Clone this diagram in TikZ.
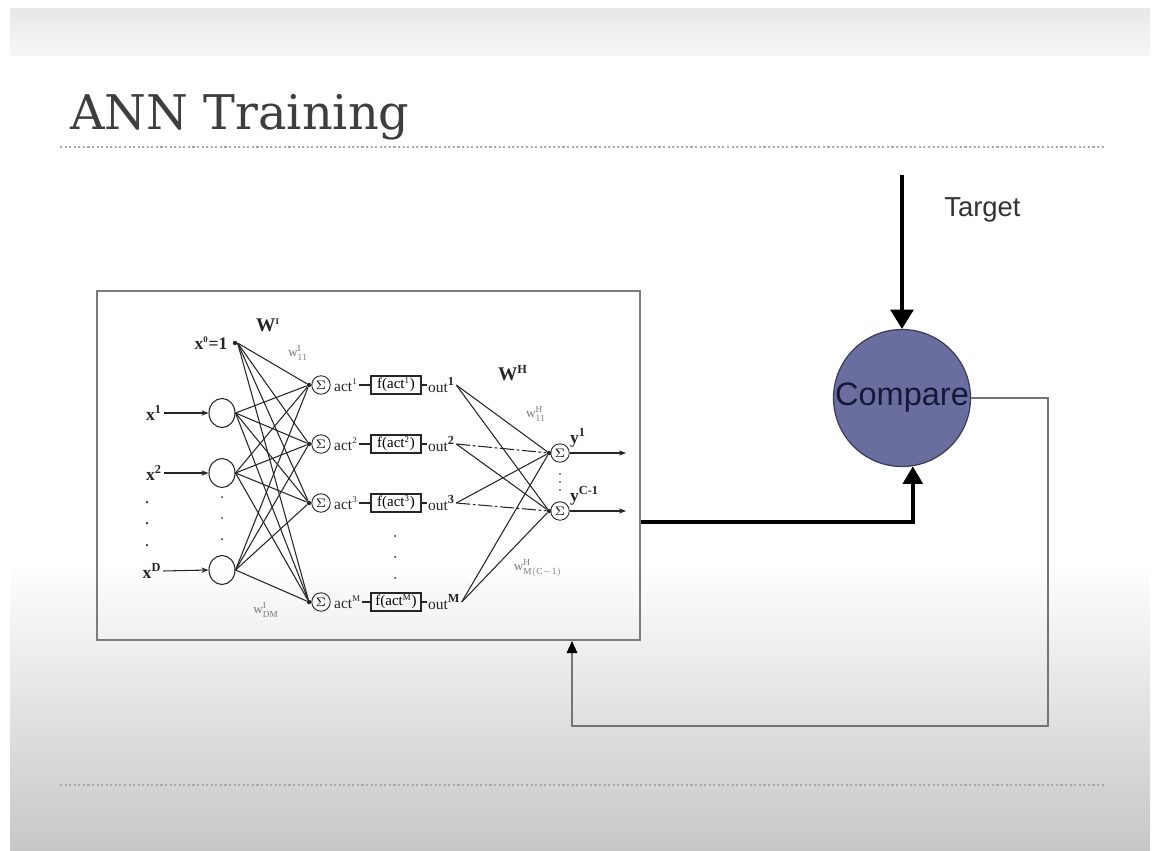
\documentclass[tikz,border=0pt]{standalone}
\usepackage{fontspec}
\setmainfont{Liberation Serif}
\newfontfamily\titlefont{DejaVu Serif}
\newfontfamily\labelfont{Liberation Sans}
\usetikzlibrary{arrows.meta,shapes.geometric,calc}

\definecolor{titlegray}{HTML}{3E3E3E}
\definecolor{rulegray}{HTML}{A8A8A8}
\definecolor{boxgray}{HTML}{7C7C7C}
\definecolor{netline}{HTML}{262626}
\definecolor{wgray}{HTML}{7A7A7A}
\definecolor{cmpfill}{HTML}{6A6E9E}
\definecolor{cmpdraw}{HTML}{3A3C58}
\definecolor{cmptext}{HTML}{16183A}
\definecolor{fbgray}{HTML}{747474}

\tikzset{
  net/.style={draw=netline, line width=0.6pt},
  inarrow/.style={net, -{Stealth[length=4pt,width=3pt]}},
  innode/.style={draw=netline, line width=0.6pt, ellipse, minimum width=0.52cm, minimum height=0.58cm, inner sep=0pt},
  sumnode/.style={draw=netline, line width=0.5pt, circle, minimum size=0.37cm, inner sep=0pt, font=\fontsize{7}{7}\selectfont},
  joint/.style={circle, fill=netline, minimum size=0.09cm, inner sep=0pt},
  fbox/.style={draw=netline, line width=0.6pt, minimum width=1.0cm, minimum height=0.36cm, inner sep=1pt, font=\fontsize{8.5}{9}\selectfont},
  rowtxt/.style={inner sep=0.5pt, font=\fontsize{8.8}{9}\selectfont, text=netline},
  xlab/.style={inner sep=1pt, font=\bfseries\fontsize{10}{10}\selectfont, text=netline},
  wlab/.style={inner sep=0pt, font=\fontsize{7.5}{8}\selectfont, text=wgray},
  ddot/.style={circle, fill=netline, minimum size=0.05cm, inner sep=0pt},
  thickarrow/.style={line width=2.2pt, -{Triangle[length=11pt,width=13pt]}},
}

\begin{document}
\begin{tikzpicture}[x=0.02cm, y=-0.02cm]
\useasboundingbox (0,0) rectangle (1156,851);
\fill[white] (0,0) rectangle (1156,851);

% slide background bands
\shade[top color=black!9, bottom color=black!3] (10,9) rectangle (1150,56);
\shade[top color=white, bottom color=black!22] (10,560) rectangle (1150,851);

% title and rules
\node[anchor=base west, inner sep=0pt, text=titlegray, font=\titlefont\fontsize{27.2}{30}\selectfont] (title) at (70,130) {ANN Training};
\coordinate (r1a) at (60,147); \coordinate (r1b) at (1106,147);
\coordinate (r2a) at (60,785); \coordinate (r2b) at (1106,785);
\draw[rulegray, line width=0.9pt, dash pattern=on 1.2pt off 1.4pt] (r1a) -- (r1b);
\draw[rulegray, line width=0.9pt, dash pattern=on 1.2pt off 1.4pt] (r2a) -- (r2b);

% network frame
\node[draw=boxgray, line width=1.1pt, minimum width=10.86cm, minimum height=6.98cm, inner sep=0pt] (box) at (368.5,465.5) {};

% ---- input layer ----
\node[xlab] (x0) at (211,343) {x\textsuperscript{\fontsize{5}{5}\selectfont 0}=1};
\node[joint] (b0) at (235,343) {};
\node[innode] (i1) at (222,413) {};
\node[innode] (i2) at (222,473) {};
\node[innode] (iD) at (222,570) {};
\node[xlab] (l1) at (154,413) {x\textsuperscript{1}};
\node[xlab] (l2) at (154,473) {x\textsuperscript{2}};
\node[xlab] (lD) at (152,571) {x\textsuperscript{D}};
\draw[inarrow] (l1.east) -- (i1.west);
\draw[inarrow] (l2.east) -- (i2.west);
\draw[inarrow] (lD.east) -- (iD.west);
\foreach \yy in {502,523,545} \node[ddot] at (147,\yy) {};
\foreach \yy in {497,518,539} \node[ddot, minimum size=0.04cm] at (222,\yy) {};

\node[inner sep=0pt, font=\bfseries\fontsize{11}{11}\selectfont, text=netline] (WI) at (268,325) {W\textsuperscript{\fontsize{5}{5}\selectfont I}};

% ---- hidden layer ----
\foreach \k/\yy/\s in {1/385/1, 2/444/2, 3/503/3, 4/602/M}{
  \node[joint] (hd\k) at (309,\yy) {};
  \node[sumnode] (s\k) at (321,\yy) {$\Sigma$};
  \node[rowtxt, anchor=west] (a\k) at (333,\yy) {act\textsuperscript{\fontsize{5}{5}\selectfont\s}};
  \node[fbox] (f\k) at (396,\yy) {f(act\textsuperscript{\fontsize{5}{5}\selectfont\s})};
  \node[rowtxt, anchor=west] (o\k) at (427,\yy) {out\textsuperscript{\bfseries\fontsize{7}{7}\selectfont\s}};
  \draw[net] (a\k.east) -- (f\k.west);
  \draw[net] (f\k.east) -- (o\k.west);
}
\foreach \yy in {536,557,578} \node[ddot, minimum size=0.04cm] at (395,\yy) {};

% input-to-hidden weights
\foreach \src in {b0,i1,i2,iD}{
  \foreach \k in {1,2,3,4}{
    \draw[net] (\src.east) -- (hd\k);
  }
}
\node[wlab] (w11) at (298,353) {$\mathrm{w}^{\mathrm{I}}_{\mathrm{11}}$};
\node[wlab] (wDM) at (266,610) {$\mathrm{w}^{\mathrm{I}}_{\mathrm{DM}}$};

% ---- output layer ----
\node[inner sep=0pt, font=\bfseries\fontsize{11}{11}\selectfont, text=netline] (WH) at (513,373) {W\textsuperscript{\fontsize{7}{7}\selectfont H}};
\node[joint] (yd1) at (549,453) {};
\node[joint] (yd2) at (549,511) {};
\node[sumnode] (y1) at (560,453) {$\Sigma$};
\node[sumnode] (y2) at (560,511) {$\Sigma$};
\node[xlab, anchor=west] (ly1) at (568,438) {y\textsuperscript{1}};
\node[xlab, anchor=west] (ly2) at (568,496) {y\textsuperscript{C-1}};
\foreach \yy in {474,482,490} \node[ddot, minimum size=0.035cm] at (560,\yy) {};
\coordinate (e1) at (626,453);
\coordinate (e2) at (626,511);
\draw[inarrow] (y1.east) -- (e1);
\draw[inarrow] (y2.east) -- (e2);

% hidden-to-output weights
\draw[net] (o1.east) -- (yd1);
\draw[net] (o1.east) -- (yd2);
\draw[net, dash pattern=on 8pt off 1.5pt on 1.5pt off 1.5pt] (o2.east) -- (yd1);
\draw[net] (o2.east) -- (yd2);
\draw[net] (o3.east) -- (yd1);
\draw[net, dash pattern=on 8pt off 1.5pt on 1.5pt off 1.5pt] (o3.east) -- (yd2);
\draw[net] (o4.east) -- (yd1);
\draw[net] (o4.east) -- (yd2);
\node[wlab] (wH11) at (536,414) {$\mathrm{w}^{\mathrm{H}}_{\mathrm{11}}$};
\node[wlab] (wHM) at (538,568) {$\mathrm{w}^{\mathrm{H}}_{\mathrm{M(C-1)}}$};

% ---- comparison stage ----
\node[circle, fill=cmpfill, draw=cmpdraw, line width=0.7pt, minimum size=2.74cm, inner sep=0pt,
      font=\labelfont\fontsize{18.5}{20}\selectfont, text=cmptext] (cmp) at (902,398) {Compare};
\coordinate (tgt) at (902,175);
\node[anchor=west, inner sep=0pt, font=\labelfont\fontsize{15.6}{17}\selectfont, text=black!80] (tlabel) at (944,210) {Target};
\draw[thickarrow] (tgt) -- (cmp.north);
\draw[line width=2.4pt, -{Triangle[length=10pt,width=11pt]}] (box.east |- 0,522) -| (cmp.-81);

% error feedback
\coordinate (fb) at (1048,726);
\draw[fbgray, line width=1.2pt, -{Triangle[length=7pt,width=6pt,black]}]
  (cmp.east) -| (fb) -| (box.south -| 572,0);
\end{tikzpicture}
\end{document}
